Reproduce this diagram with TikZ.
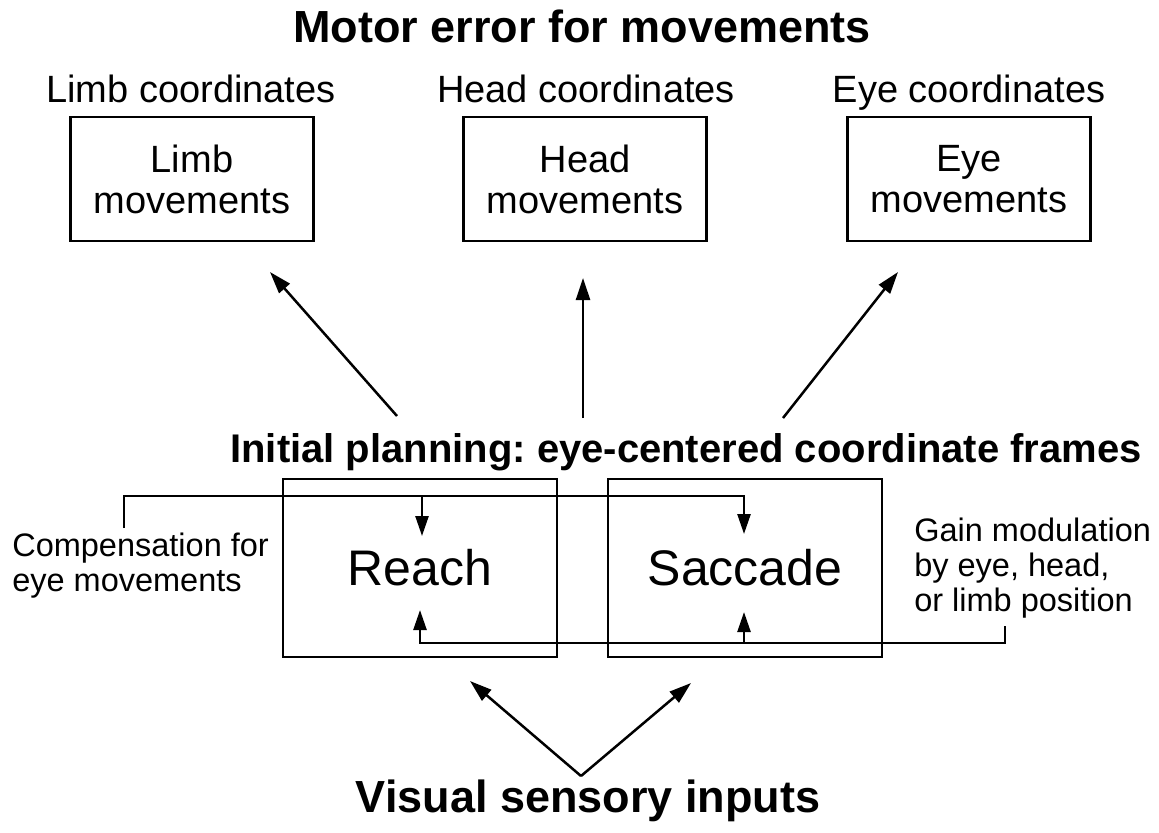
\documentclass[tikz,border=0pt]{standalone}
\usepackage{fontspec}
\setmainfont{Liberation Sans}
\usetikzlibrary{arrows.meta}
\frenchspacing
\begin{document}
\begin{tikzpicture}[x=0.5pt,y=-0.5pt,
  line width=1.3pt,
  topbox/.style={draw, line width=1.3pt, inner sep=0pt, align=center,
    font=\fontsize{19}{20.5}\selectfont, minimum width=121.5pt, minimum height=62pt},
  bigbox/.style={draw, line width=1.3pt, inner sep=0pt,
    font=\fontsize{25}{30}\selectfont, minimum width=137pt, minimum height=89pt},
  lbl/.style={inner sep=0pt, anchor=base, font=\fontsize{19}{22}\selectfont},
  ttl/.style={inner sep=0pt, anchor=base, font=\bfseries\fontsize{22.5}{26}\selectfont},
  ttlb/.style={inner sep=0pt, anchor=base, font=\bfseries\fontsize{20}{24}\selectfont},
  side/.style={inner sep=0pt, align=left, anchor=south west, text depth=0pt,
    font=\fontsize{16.25}{17.5}\selectfont},
  arr/.style={-{Triangle[length=11pt,width=7pt]}, line width=1.25pt},
  sarr/.style={-{Triangle[length=10pt,width=6.5pt]}, line width=1.25pt}
]
\useasboundingbox (0,0) rectangle (1159,832);

% titles
\node[ttl] (tmotor) at (582,42) {Motor error for movements};
\node[ttlb] (tplan) at (686,462) {Initial planning: eye-centered coordinate frames};
\node[ttl] (tvis) at (588,812) {Visual sensory inputs};

% coordinate labels
\node[lbl] (llimb) at (191,102) {Limb coordinates};
\node[lbl] (lhead) at (586,102) {Head coordinates};
\node[lbl] (leye) at (969,102) {Eye coordinates};

% top boxes
\node[topbox] (limb) at (192,179) {Limb\\movements};
\node[topbox] (head) at (585,179) {Head\\movements};
\node[topbox] (eye) at (969,179) {Eye\\movements};

% planning boxes
\node[bigbox] (reach) at (420,568) {Reach};
\node[bigbox] (sacc) at (745,568) {Saccade};

% side texts
\node[side] (comp) at (11,593) {Compensation for\\eye movements};
\node[side] (gain) at (913,613) {Gain modulation\\by eye, head,\\or limb position};

% arrows to motor boxes
\coordinate (a1s) at (397,416); \coordinate (a1e) at (270,272);
\coordinate (a2s) at (583,418); \coordinate (a2e) at (583,278);
\coordinate (a3s) at (783,418); \coordinate (a3e) at (898,272);
\draw[arr] (a1s) -- (a1e);
\draw[arr] (a2s) -- (a2e);
\draw[arr] (a3s) -- (a3e);

% compensation connector
\coordinate (c0) at (124,528);
\coordinate (c1) at (124,496);
\coordinate (cR) at (422,496);
\coordinate (rIn) at (422,536);
\coordinate (sIn) at (744,534);
\draw[sarr] (c0) -- (c1) -| (sIn);
\draw[sarr] (cR) -- (rIn);

% gain connector
\coordinate (g0) at (1005,626);
\coordinate (g1) at (1005,643);
\coordinate (gS) at (744,643);
\coordinate (rUp) at (420,610);
\coordinate (sUp) at (744,612);
\draw[sarr] (g0) -- (g1) -| (rUp);
\draw[sarr] (gS) -- (sUp);

% visual inputs
\coordinate (apex) at (581,776);
\coordinate (vL) at (470,681);
\coordinate (vR) at (691,683);
\draw[arr] (apex) -- (vL);
\draw[arr] (apex) -- (vR);
\end{tikzpicture}
\end{document}
